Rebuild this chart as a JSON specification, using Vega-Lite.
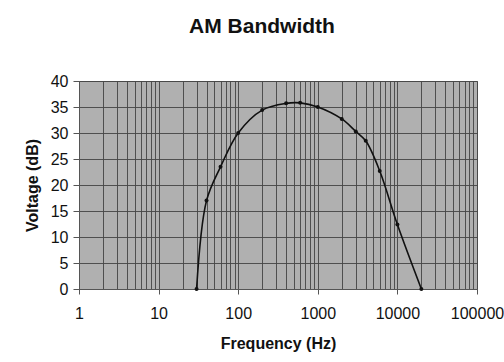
{
  "$schema": "https://vega.github.io/schema/vega-lite/v6.json",
  "width": 398,
  "height": 208,
  "autosize": {"type": "none"},
  "padding": {"left": 79, "top": 81, "right": 27, "bottom": 73},
  "background": "white",
  "title": {
    "text": "AM Bandwidth",
    "font": "Liberation Sans",
    "fontSize": 21,
    "fontWeight": "bold",
    "color": "#111111",
    "anchor": "middle",
    "dx": -16,
    "offset": 36
  },
  "config": {
    "view": {"fill": "#b0b0b0", "stroke": "#6e6e6e", "strokeWidth": 1},
    "axis": {
      "labelFont": "Liberation Sans",
      "labelFontSize": 16,
      "labelColor": "#111111",
      "labelFlush": false,
      "titleFont": "Liberation Sans",
      "titleFontSize": 16,
      "titleFontWeight": "bold",
      "titleColor": "#111111",
      "domainColor": "#555555",
      "tickColor": "#555555",
      "gridColor": "#454545",
      "gridOpacity": 0.9
    }
  },
  "data": {
    "values": [
      {"freq": 30, "db": 0},
      {"freq": 40, "db": 17},
      {"freq": 60, "db": 23.5},
      {"freq": 100, "db": 30},
      {"freq": 200, "db": 34.4},
      {"freq": 400, "db": 35.7},
      {"freq": 600, "db": 35.8},
      {"freq": 1000, "db": 35},
      {"freq": 2000, "db": 32.7},
      {"freq": 3000, "db": 30.3},
      {"freq": 4000, "db": 28.5},
      {"freq": 6000, "db": 22.7},
      {"freq": 10000, "db": 12.4},
      {"freq": 20000, "db": 0}
    ]
  },
  "encoding": {
    "x": {
      "field": "freq",
      "type": "quantitative",
      "scale": {"type": "log", "domain": [1, 100000], "nice": false},
      "axis": {
        "title": "Frequency (Hz)",
        "values": [1,2,3,4,5,6,7,8,9,10,20,30,40,50,60,70,80,90,100,200,300,400,500,600,700,800,900,1000,2000,3000,4000,5000,6000,7000,8000,9000,10000,20000,30000,40000,50000,60000,70000,80000,90000,100000],
        "format": "d",
        "labelExpr": "indexof(['1','10','100','1000','10000','100000'], datum.label) >= 0 ? datum.label : ''",
        "labelOverlap": false,
        "labelBound": false,
        "labelPadding": 11,
        "tickSize": 5,
        "tickOpacity": {"condition": {"test": "indexof([1,10,100,1000,10000,100000], datum.value) >= 0", "value": 1}, "value": 0},
        "grid": true,
        "titlePadding": 14
      }
    },
    "y": {
      "field": "db",
      "type": "quantitative",
      "scale": {"domain": [0, 40], "nice": false},
      "axis": {
        "title": "Voltage (dB)",
        "values": [0,5,10,15,20,25,30,35,40],
        "tickSize": 6,
        "labelPadding": 5,
        "grid": true,
        "titlePadding": 10
      }
    }
  },
  "layer": [
    {
      "mark": {"type": "line", "interpolate": "catmull-rom", "color": "#111111", "strokeWidth": 1.6}
    },
    {
      "mark": {"type": "point", "filled": true, "color": "#111111", "size": 16, "opacity": 1}
    }
  ]
}
